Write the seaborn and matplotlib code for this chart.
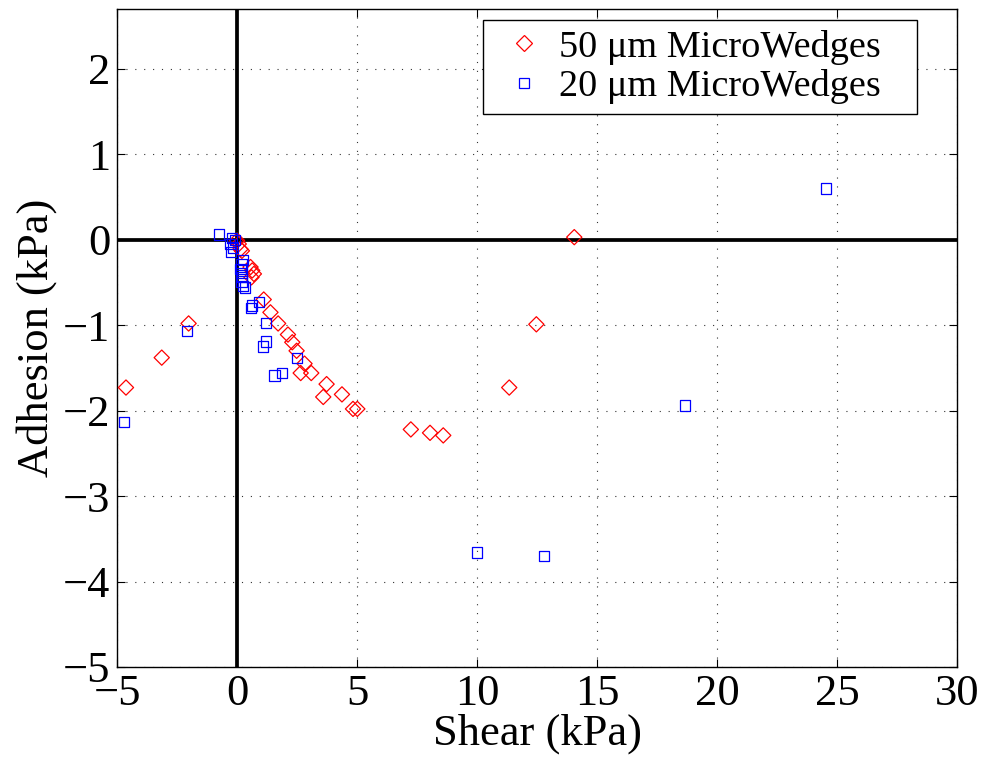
import matplotlib
matplotlib.use("Agg")
import matplotlib.pyplot as plt
import seaborn as sns
import pandas as pd

# Shear / adhesion measurements (kPa) for the two wedge sizes
shear_50 = [-4.63, -3.14, -2.02, 0.00, 0.07, 0.14, 0.20, 0.56, 0.63, 0.70, 0.60,
            1.11, 1.39, 1.71, 2.12, 2.30, 2.48, 2.81, 2.65, 3.09, 3.73, 3.59,
            4.37, 4.83, 5.01, 7.24, 8.04, 8.59, 11.34, 12.47, 14.05]
adhesion_50 = [-1.73, -1.38, -0.98, -0.01, -0.05, -0.11, -0.13, -0.32, -0.36, -0.40, -0.44,
               -0.70, -0.85, -0.98, -1.11, -1.20, -1.30, -1.45, -1.56, -1.56, -1.69, -1.84,
               -1.81, -1.98, -1.98, -2.22, -2.26, -2.29, -1.73, -0.99, 0.03]

shear_20 = [-4.71, -2.08, -0.77, -0.21, -0.10, -0.28, -0.18, -0.24,
            0.24, 0.18, 0.14, 0.18, 0.21, 0.18, 0.24, 0.32,
            0.90, 0.63, 0.58, 1.22, 1.22, 1.09, 2.48, 1.88, 1.56,
            10.00, 12.80, 18.66, 24.55]
adhesion_20 = [-2.13, -1.07, 0.06, 0.02, 0.00, -0.05, -0.09, -0.14,
               -0.24, -0.29, -0.34, -0.39, -0.44, -0.49, -0.54, -0.56,
               -0.73, -0.77, -0.80, -0.97, -1.19, -1.25, -1.38, -1.56, -1.59,
               -3.66, -3.70, -1.94, 0.60]

labels = ["50 \u03bcm MicroWedges", "20 \u03bcm MicroWedges"]
x_ticks = [-5, 0, 5, 10, 15, 20, 25, 30]
y_ticks = [-5, -4, -3, -2, -1, 0, 1, 2]

df = pd.concat([
    pd.DataFrame({"Shear": shear_50, "Adhesion": adhesion_50, "Wedge": labels[0]}),
    pd.DataFrame({"Shear": shear_20, "Adhesion": adhesion_20, "Wedge": labels[1]}),
], ignore_index=True)

sns.set_style("ticks")
plt.rcParams["font.family"] = ["Liberation Serif", "DejaVu Serif"]
plt.rcParams["text.color"] = "black"
plt.rcParams["axes.labelcolor"] = "black"
plt.rcParams["xtick.color"] = "black"
plt.rcParams["ytick.color"] = "black"

fig = plt.figure(figsize=(9.84, 7.62), dpi=100)
ax = fig.add_axes([0.119, 0.1247, 0.8536, 0.8635])

styles = {labels[0]: ("D", "#ff0000", 60), labels[1]: ("s", "#0000ff", 54)}
handles = []
for name in labels:
    marker, color, size = styles[name]
    sub = df[df["Wedge"] == name]
    sns.scatterplot(data=sub, x="Shear", y="Adhesion", marker=marker, s=size,
                    ax=ax, legend=False, zorder=3)
    coll = ax.collections[-1]
    coll.set_facecolor("none")
    coll.set_edgecolor(color)
    coll.set_linewidth(0.9)
    handles.append(plt.Line2D([], [], linestyle="none", marker=marker,
                              markersize=size ** 0.5, markerfacecolor="white",
                              markeredgecolor=color, markeredgewidth=0.9,
                              label=name))

# Reference axes through the origin
ax.axhline(0, color="black", linewidth=2.7, zorder=2)
ax.axvline(0, color="black", linewidth=2.7, zorder=2)

ax.set_xlim(-5, 30)
ax.set_ylim(-5, 2.7)
ax.set_xticks(x_ticks)
ax.set_yticks(y_ticks)
ax.grid(True, linestyle=(0, (1, 7)), linewidth=0.8, color="0.2")
ax.set_axisbelow(True)

ax.tick_params(direction="in", length=6, width=0.8, top=True, right=True,
               labelsize=32, pad=5, colors="black")
for spine in ax.spines.values():
    spine.set_visible(True)
    spine.set_linewidth(1.0)
    spine.set_color("black")

ax.set_xlabel("Shear (kPa)", fontsize=32, labelpad=0, color="black")
ax.set_ylabel("Adhesion (kPa)", fontsize=32, labelpad=4, color="black")

leg = ax.legend(handles=handles, loc="upper left",
                bbox_to_anchor=(0.4357, 0.813, 0.5167, 0.1703), mode="expand",
                borderaxespad=0, fontsize=27.5, frameon=True, fancybox=False,
                framealpha=1, edgecolor="black", handlelength=1.65,
                handletextpad=0.1, borderpad=0.25, labelspacing=0.12)
leg.get_frame().set_linewidth(1.0)
for txt in leg.get_texts():
    txt.set_color("black")

fig.savefig("out.png", dpi=100)
